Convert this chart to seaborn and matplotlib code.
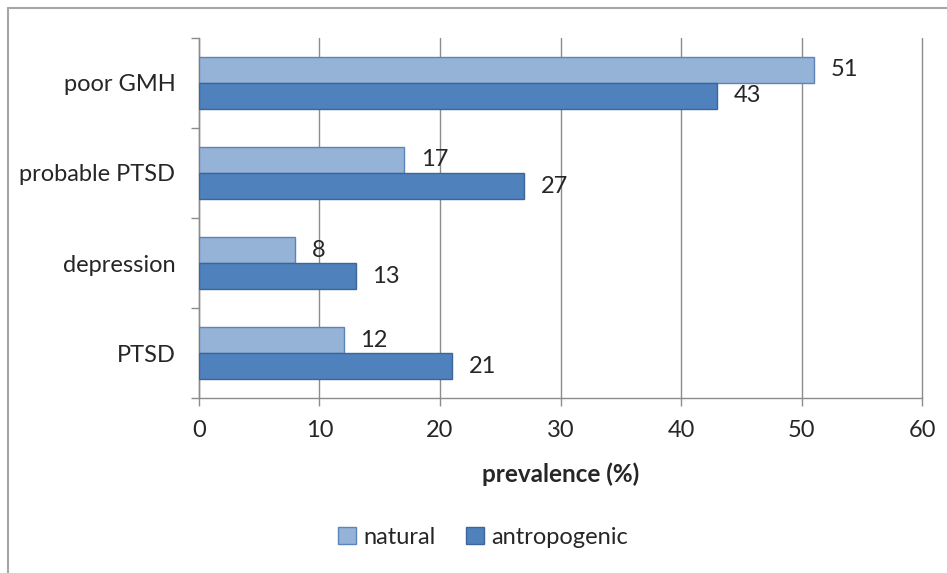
import pandas as pd
import seaborn as sns
import matplotlib.pyplot as plt
from matplotlib.lines import Line2D
from matplotlib.ticker import FixedLocator

categories = ['poor GMH', 'probable PTSD', 'depression', 'PTSD']
natural = [51, 17, 8, 12]
antropogenic = [43, 27, 13, 21]
x_ticks = [0, 10, 20, 30, 40, 50, 60]

df = pd.DataFrame({'category': categories, 'natural': natural,
                   'antropogenic': antropogenic})
df = df.melt(id_vars='category', var_name='group', value_name='value')

sns.set_style('white')
plt.rcParams['font.family'] = ['Lato', 'DejaVu Sans']
FS = 17

fig = plt.figure(figsize=(9.47, 5.73), dpi=100)
ax = fig.add_axes([0.210, 0.305, 0.764, 0.629])

palette = {'natural': '#95B3D7', 'antropogenic': '#4F81BD'}
sns.barplot(data=df, x='value', y='category', hue='group', order=categories,
            hue_order=['natural', 'antropogenic'], palette=palette,
            width=0.58, saturation=1, ax=ax, zorder=3)

edges = {'natural': '#5A85B8', 'antropogenic': '#3A6798'}
for cont, name in zip(ax.containers, ['natural', 'antropogenic']):
    for bar in cont:
        bar.set_edgecolor(edges[name])
        bar.set_linewidth(1.0)
    texts = ax.bar_label(cont, labels=[f'{v:g}' for v in cont.datavalues],
                         padding=12, fontsize=FS)
    for t in texts:
        t.set_va('center')
        t.set_y(t.get_position()[1])

ax.set_xlim(0, 60)
ax.set_ylim(3.5, -0.5)
ax.set_xticks(x_ticks)
ax.xaxis.grid(True, color='#8c8c8c', linewidth=1.0, zorder=0)
for gl in ax.get_xgridlines():
    gl.set_clip_on(False)
ax.set_axisbelow(True)

# category labels without ticks; tick marks at category boundaries
ax.tick_params(axis='y', which='major', length=0, labelsize=FS, pad=17)
ax.yaxis.set_minor_locator(FixedLocator([-0.5, 0.5, 1.5, 2.5, 3.5]))
ax.tick_params(axis='y', which='minor', length=6, color='#8c8c8c', width=1)
ax.tick_params(axis='x', which='major', length=6, color='#8c8c8c', width=1,
               labelsize=FS, pad=10, direction='out')
ax.tick_params(axis='x', bottom=True)
ax.tick_params(axis='y', left=True, which='minor')

for s in ['top', 'right']:
    ax.spines[s].set_visible(False)
for s in ['left', 'bottom']:
    ax.spines[s].set_color('#8c8c8c')
    ax.spines[s].set_linewidth(1.0)

ax.set_ylabel('')
ax.set_xlabel('prevalence (%)', fontsize=17.5, fontweight='bold', labelpad=15)

handles, labels = ax.get_legend_handles_labels()
ax.get_legend().remove()
leg = fig.legend(handles, labels, loc='center', bbox_to_anchor=(0.51, 0.062),
                 ncol=2, frameon=False, fontsize=FS, handlelength=0.75,
                 handleheight=0.75, handletextpad=0.3, columnspacing=1.3)
for h, name in zip(leg.legend_handles, ['natural', 'antropogenic']):
    h.set_edgecolor(edges[name])

# outer chart border (top and left only)
fig.add_artist(Line2D([0.0085, 0.0085], [0, 0.986], transform=fig.transFigure,
                      color='#a6a6a6', linewidth=1.5))
fig.add_artist(Line2D([0.0085, 1.0], [0.986, 0.986], transform=fig.transFigure,
                      color='#a6a6a6', linewidth=1.5))

fig.savefig('out.png', dpi=100, facecolor='white')
